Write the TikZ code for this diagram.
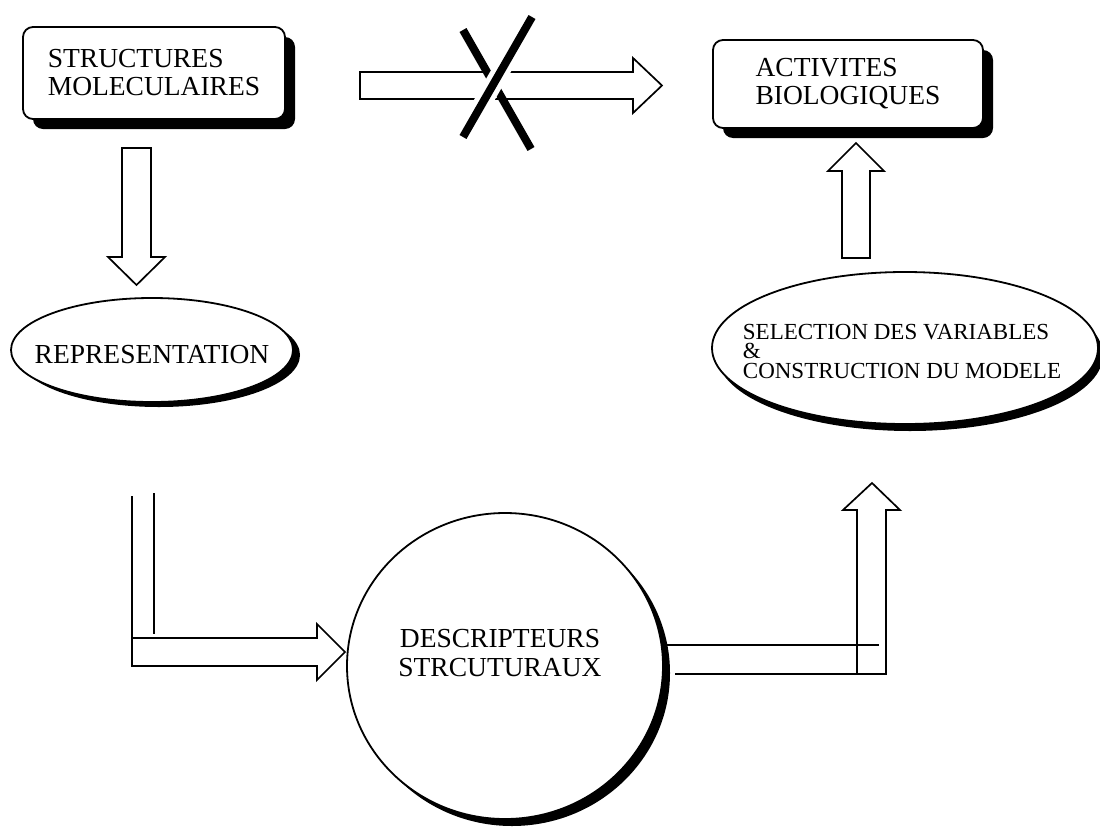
\documentclass[tikz,border=0pt]{standalone}
\usepackage{fontspec}
\setmainfont{Liberation Serif}
\usepackage{tikz}
\usetikzlibrary{shapes.geometric, shadows}

\tikzset{
  box/.style={draw, line width=1.8pt, fill=white, inner sep=0pt,
    font=\fontsize{27.5}{28}\selectfont},
  roundbox/.style={box, rounded corners=10pt, align=left,
    drop shadow={shadow xshift=10pt, shadow yshift=-10pt, opacity=1, fill=black}},
  oval/.style={box, ellipse},
  ovaltext/.style={inner sep=0pt, font=\fontsize{27.5}{29}\selectfont},
  hollow/.style={draw, line width=1.7pt, fill=white},
  outline/.style={draw, line width=1.7pt},
  slash/.style={line width=8pt}
}

\begin{document}
\begin{tikzpicture}[x=1pt, y=-1pt]
  \useasboundingbox (0,0) rectangle (1100,830);

  % blocks
  \node[roundbox, minimum width=262pt, minimum height=92pt] (struct) at (154,73)
    {STRUCTURES\\MOLECULAIRES};
  \node[roundbox, minimum width=270pt, minimum height=88pt] (activ) at (848,84)
    {ACTIVITES\\BIOLOGIQUES};

  \node[oval, minimum width=282pt, minimum height=104pt,
    drop shadow={shadow xshift=7pt, shadow yshift=-5pt, opacity=1, fill=black}]
    (repr) at (152,350) {};
  \node[ovaltext] (reprtxt) at ([yshift=-5pt]repr.center) {REPRESENTATION};

  \node[oval, minimum width=386pt, minimum height=152pt,
    drop shadow={shadow xshift=5pt, shadow yshift=-7pt, opacity=1, fill=black}]
    (select) at (905,348) {};
  \node[ovaltext, align=left, font=\fontsize{23}{19.5}\selectfont] (selecttxt)
    at ([xshift=-3pt, yshift=-3pt]select.center)
    {SELECTION DES VARIABLES\\\&\\CONSTRUCTION DU MODELE};

  \node[oval, minimum width=316pt, minimum height=306pt,
    drop shadow={shadow xshift=7pt, shadow yshift=-7pt, opacity=1, fill=black}]
    (desc) at (505,666) {};
  \node[ovaltext, align=center] (desctxt) at ([xshift=-5pt, yshift=13pt]desc.center)
    {DESCRIPTEURS\\STRCUTURAUX};

  % block arrows
  \draw[hollow] (122,148) -- (151,148) -- (151,257) -- (165,257) -- (136.5,285)
    -- (108,257) -- (122,257) -- cycle;
  \draw[hollow] (842,258) -- (870,258) -- (870,171) -- (884,171) -- (856,143)
    -- (828,171) -- (842,171) -- cycle;
  \draw[hollow] (360,72) -- (633,72) -- (633,58) -- (662,85.5) -- (633,113)
    -- (633,99) -- (360,99) -- cycle;

  % no direct link
  \draw[slash] (463,30) -- (531,149);
  \draw[slash, preaction={draw, white, line width=18pt}] (532,17) -- (463,137);

  % L-shaped arrows
  \draw[outline] (132,496) -- (132,666) -- (317,666) -- (317,680) -- (345,652)
    -- (317,624) -- (317,638) -- (132,638);
  \draw[outline] (154,493) -- (154,634);

  \draw[outline] (675,674) -- (886,674) -- (886,510) -- (900,510) -- (872,483)
    -- (843,510) -- (857,510) -- (857,674);
  \draw[outline] (667,645) -- (879,645);
\end{tikzpicture}
\end{document}
